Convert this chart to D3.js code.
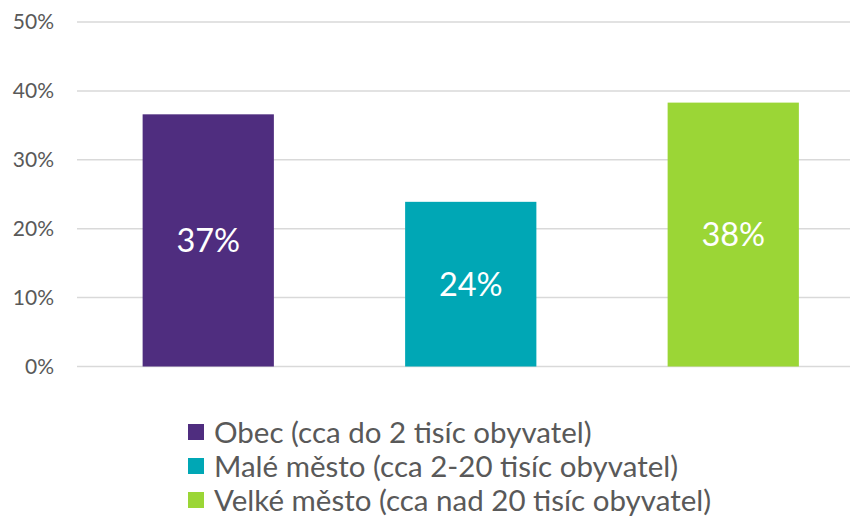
<!DOCTYPE html>
<html>
<head>
<meta charset="utf-8">
<script src="https://cdn.jsdelivr.net/npm/d3@7"></script>
<style>
  body { margin: 0; background: #fff; }
  #plot { width: 850px; height: 516px; }
</style>
</head>
<body>
<div id="plot"></div>
<script>
// categories and values
const categories = ['Obec (cca do 2 tisíc obyvatel)', 'Malé město (cca 2-20 tisíc obyvatel)', 'Velké město (cca nad 20 tisíc obyvatel)'];
const values = [0.366, 0.239, 0.383];
const valueLabels = ['37%', '24%', '38%'];
const yTicks = [0, 0.1, 0.2, 0.3, 0.4, 0.5];
const colors = ['#4f2d7f', '#00a7b5', '#9bd636'];

const W = 850, H = 516;
const font = 'Lato, "Open Sans", sans-serif';

const svg = d3.select('#plot').append('svg').attr('width', W).attr('height', H);

const x = d3.scaleBand().domain(categories).range([77, 864.5]).paddingInner(0.5).paddingOuter(0.25);
const y = d3.scaleLinear().domain([0, 0.5]).range([366.5, 22]);

// gridlines
svg.append('g').selectAll('line').data(yTicks).enter().append('line')
  .attr('x1', 77).attr('x2', W)
  .attr('y1', d => y(d)).attr('y2', d => y(d))
  .attr('stroke', '#d9d9d9').attr('stroke-width', 1.5);

// y axis labels
const yAxis = d3.axisLeft(y).tickValues(yTicks).tickFormat(d3.format('.0%')).tickSize(0).tickPadding(0);
const yg = svg.append('g').attr('transform', 'translate(54,0)').call(yAxis);
yg.select('.domain').remove();
yg.selectAll('text').attr('fill', '#595959').style('font-family', font).style('font-size', '21px');

// bars
svg.append('g').selectAll('rect').data(values).enter().append('rect')
  .attr('x', (d, i) => x(categories[i]))
  .attr('width', x.bandwidth())
  .attr('y', d => y(d))
  .attr('height', d => y(0) - y(d))
  .attr('fill', (d, i) => colors[i]);

// value labels
svg.append('g').selectAll('text').data(values).enter().append('text')
  .attr('x', (d, i) => x(categories[i]) + x.bandwidth() / 2)
  .attr('y', d => (y(d) + y(0)) / 2)
  .attr('dy', '0.36em')
  .attr('text-anchor', 'middle')
  .attr('fill', '#fff')
  .style('font-family', font).style('font-size', '32.5px')
  .text((d, i) => valueLabels[i]);

// legend
const legend = svg.append('g').attr('transform', 'translate(188,432)');
const rows = legend.selectAll('g').data(categories).enter().append('g')
  .attr('transform', (d, i) => `translate(0,${i * 34})`);
rows.append('rect').attr('x', 0).attr('y', -8).attr('width', 16).attr('height', 16)
  .attr('fill', (d, i) => colors[i]);
rows.append('text').attr('x', 26).attr('y', 0).attr('dy', '0.36em')
  .attr('fill', '#595959')
  .style('font-family', font).style('font-size', '29.5px')
  .text(d => d);
</script>
</body>
</html>
